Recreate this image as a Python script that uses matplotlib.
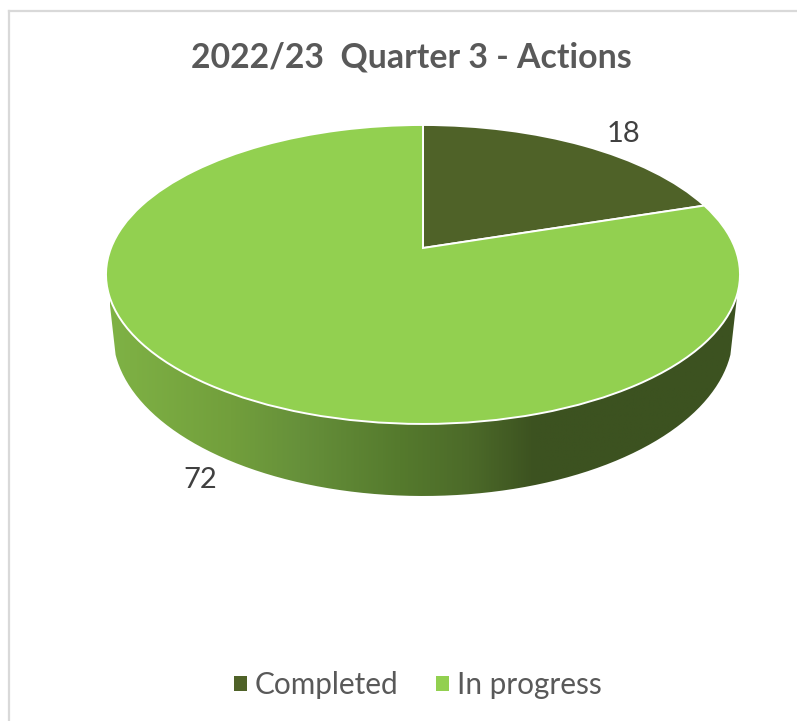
import numpy as np
import matplotlib
matplotlib.use("Agg")
import matplotlib.pyplot as plt
from matplotlib.colors import LinearSegmentedColormap
from matplotlib.lines import Line2D
from matplotlib.patches import PathPatch, Patch
from matplotlib.path import Path
from matplotlib.transforms import Transform

categories = ["Completed", "In progress"]
values = [18, 72]
title = "2022/23  Quarter 3 - Actions"
slice_colors = ["#4F6228", "#92D050"]
wall_stops = [110, 230, 300, 400, 470, 535, 740]
wall_colors = ["#7FB245", "#729F3C", "#66903A", "#557A2D", "#4C6A29", "#3C5220", "#3C5220"]

W, H = 797, 721
plt.rcParams["font.family"] = ["Lato", "DejaVu Sans"]

CX, CY, A, B, K = 423.0, 248.0, 312.0, 144.8, 0.177


class Perspective(Transform):
    """Unit-circle pie coordinates to pixel coordinates, seen in perspective."""
    input_dims = output_dims = 2
    is_separable = False
    has_inverse = False

    def transform_non_affine(self, values):
        p = np.asarray(values, dtype=float)
        w = 1 + K * p[:, 1]
        return np.column_stack([CX + A * p[:, 0] / w, CY - B * p[:, 1] / w])


persp = Perspective()

fig = plt.figure(figsize=(W / 100, H / 100), dpi=100, facecolor="white")
ax = fig.add_axes([0, 0, 1, 1])

wedges, _ = ax.pie(values, colors=slice_colors, startangle=90, counterclock=False,
                   wedgeprops=dict(edgecolor="white", linewidth=1.4, zorder=3))
for wedge in wedges:
    wedge.set_transform(persp + ax.transData)

# Side wall: front part of the rim and the same rim pushed down
t = np.radians(np.linspace(180 + 17.46, 360 - 17.46, 240))
rim = persp.transform(np.column_stack([np.cos(t), np.sin(t)]))
low = np.column_stack([CX + (rim[:, 0] - CX) * 0.978, 355 + (rim[:, 1] - 294) * 1.085])
wall = np.vstack([rim, low[::-1], rim[:1]])
wall_patch = PathPatch(Path(wall), facecolor="none", edgecolor="none", transform=ax.transData)
ax.add_patch(wall_patch)
span = wall_stops[-1] - wall_stops[0]
cmap = LinearSegmentedColormap.from_list(
    "wall", [((s - wall_stops[0]) / span, c) for s, c in zip(wall_stops, wall_colors)])
img = ax.imshow(np.linspace(0, 1, 512)[None, :], cmap=cmap, aspect="auto",
                extent=[wall_stops[0], wall_stops[-1], 500, 280], zorder=2)
img.set_clip_path(wall_patch)

ax.set_xlim(0, W)
ax.set_ylim(H, 0)
ax.set_aspect("auto")
ax.axis("off")

# Chart frame, cropped on the right and at the bottom
for xs, ys in (([9.5, 9.5], [H, 10.5]), ([9.5, W], [10.5, 10.5])):
    ax.add_line(Line2D(xs, ys, color="#D9D9D9", lw=1.6, zorder=1))

ax.text(411, 57, title, ha="center", va="center", fontsize=24.4, fontweight="bold", color="#595959")
ax.text(623.5, 133.5, str(values[0]), ha="center", va="center", fontsize=21, color="#404040")
ax.text(200, 480, str(values[1]), ha="center", va="center", fontsize=21, color="#404040")

handles = [Patch(facecolor=c, edgecolor="none") for c in slice_colors]
ax.legend(handles, categories, loc="center", bbox_to_anchor=(417.5 / W, 1 - 685 / H),
          ncol=2, frameon=False, fontsize=21.4, labelcolor="#595959",
          handlelength=0.44, handleheight=0.44, handletextpad=0.27, columnspacing=1.25,
          borderpad=0, borderaxespad=0)

fig.savefig("out.png", dpi=100, facecolor="white")
